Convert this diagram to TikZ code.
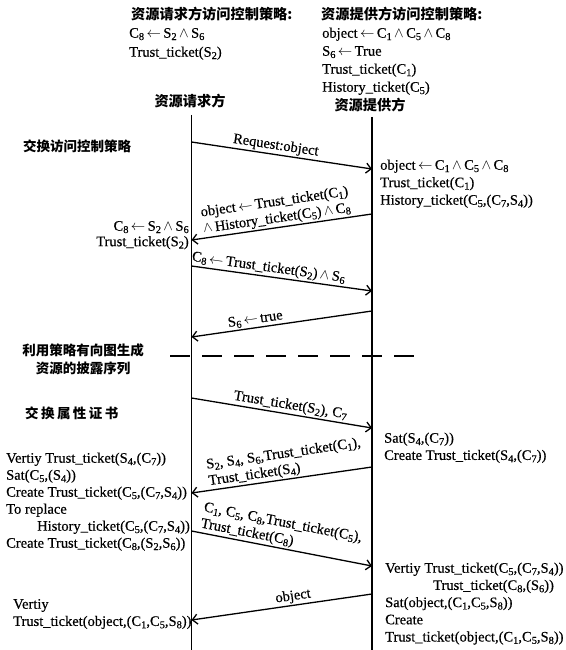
\documentclass[tikz,border=0pt]{standalone}
\usepackage{fontspec}
\setmainfont{Liberation Serif}[FakeBold=0.35]
\newfontfamily\cjk{Noto Sans CJK SC}
\usetikzlibrary{arrows.meta}
\newcommand{\dn}[1]{\raisebox{-0.35ex}{\fontsize{10.5}{10.5}\selectfont #1}}
\newcommand{\larr}{\,$\leftarrow$\,}
\newcommand{\wed}{\,$\wedge$\,}
\newcommand{\fs}{\rule{0pt}{12pt}}
\begin{document}
\begin{tikzpicture}[x=1pt,y=-1pt,
  txt/.style={font=\fontsize{14.5}{17.2}\selectfont, inner sep=0pt, align=left, anchor=north west},
  cjkt/.style={font=\cjk\bfseries\fontsize{13.5}{18}\selectfont, inner sep=0pt, anchor=west},
  cjkh/.style={font=\cjk\bfseries\fontsize{14.2}{18}\selectfont, inner sep=0pt, anchor=west},
  life/.style={line width=1.4pt},
  msg/.style={line width=1.3pt, -{Straight Barb[length=5pt,width=10pt,line width=1.3pt]}},
  lbl/.style={font=\fontsize{14.5}{16.5}\selectfont, inner sep=1.5pt, sloped, above, align=left}]
\fill[white] (0,0) rectangle (565,650);
\useasboundingbox (0,0) rectangle (565,650);

% headings
\node[cjkh] (hl) at (131,14) {资源请求方访问控制策略:};
\node[cjkh] (hr) at (321,14) {资源提供方访问控制策略:};
\node[txt, font=\fontsize{14.5}{19}\selectfont] (tl) at (129,25.5) {\fs C\dn{8}\larr S\dn{2}\wed S\dn{6}\\Trust\_ticket(S\dn{2})};
\node[txt, font=\fontsize{14.5}{18}\selectfont] (tr) at (322,25.5) {\fs object\larr C\dn{1}\wed C\dn{5}\wed C\dn{8}\\S\dn{6}\larr True\\Trust\_ticket(C\dn{1})\\History\_ticket(C\dn{5})};

% lifeline labels
\node[cjkh, anchor=center] (pl) at (190,101) {资源请求方};
\node[cjkh, anchor=center] (pr) at (370,105) {资源提供方};

% lifelines
\coordinate (L0) at (191.5,115);
\coordinate (L1) at (191.5,650);
\coordinate (R0) at (372,117);
\coordinate (R1) at (372,650);
\draw[life] (L0) -- (L1);
\draw[life] (R0) -- (R1);

% phase labels
\node[cjkt] (ph1) at (23,146) {交换访问控制策略};
\node[cjkt, align=center, anchor=center] (ph2) at (83,359) {利用策略有向图生成\\资源的披露序列};
\node[cjkt, font=\cjk\bfseries\addfontfeature{LetterSpace=18}\fontsize{13.5}{18}\selectfont] (ph3) at (25,413) {交换属性证书};

% dashed separator
\coordinate (d0) at (170,356);
\coordinate (d1) at (416,356);
\draw[line width=1.3pt, dash pattern=on 20pt off 12pt] (d0) -- (d1);

% arrow end points
\coordinate (a1s) at (191.5,142); \coordinate (a1e) at (372,169);
\coordinate (a2s) at (372,214);   \coordinate (a2e) at (191.5,240);
\coordinate (a3s) at (191.5,266); \coordinate (a3e) at (372,291);
\coordinate (a4s) at (372,311);   \coordinate (a4e) at (191.5,337);
\coordinate (a6s) at (191.5,398); \coordinate (a6e) at (372,428);
\coordinate (a7s) at (372,467);   \coordinate (a7e) at (191.5,493);
\coordinate (a8s) at (191.5,531); \coordinate (a8e) at (372,566);
\coordinate (a9s) at (372,594);   \coordinate (a9e) at (191.5,620);

\draw[msg] (a1s) -- node[lbl, pos=0.46] (m1) {Request:object} (a1e);
\draw[msg] (a2s) -- node[lbl, pos=0.52] (m2) {object\larr Trust\_ticket(C\dn{1})\\$\wedge$\,History\_ticket(C\dn{5})\wed C\dn{8}} (a2e);
\draw[msg] (a3s) -- node[lbl, pos=0.42] (m3) {C\dn{8}\larr Trust\_ticket(S\dn{2})\wed S\dn{6}} (a3e);
\draw[msg] (a4s) -- node[lbl, pos=0.64] (m4) {S\dn{6}\larr true} (a4e);
\draw[msg] (a6s) -- node[lbl, pos=0.54] (m6) {Trust\_ticket(S\dn{2}), C\dn{7}} (a6e);
\draw[msg] (a7s) -- node[lbl, pos=0.47] (m7) {S\dn{2}, S\dn{4}, S\dn{6},Trust\_ticket(C\dn{1}),\\Trust\_ticket(S\dn{4})} (a7e);
\draw[msg] (a8s) -- node[lbl, pos=0.48] (m8) {C\dn{1}, C\dn{5}, C\dn{8},Trust\_ticket(C\dn{5}),\\Trust\_ticket(C\dn{8})} (a8e);
\draw[msg] (a9s) -- node[lbl, pos=0.43] (m9) {object} (a9e);

% right-side notes
\node[txt, font=\fontsize{14.5}{17.5}\selectfont] (nA) at (380,157.5) {\fs object\larr C\dn{1}\wed C\dn{5}\wed C\dn{8}\\Trust\_ticket(C\dn{1})\\History\_ticket(C\dn{5},(C\dn{7},S\dn{4}))};
\node[txt] (nB) at (384,430.5) {\fs Sat(S\dn{4},(C\dn{7}))\\Create Trust\_ticket(S\dn{4},(C\dn{7}))};
\node[txt] (nC) at (385,560.5) {\fs Vertiy Trust\_ticket(C\dn{5},(C\dn{7},S\dn{4}))\\\hspace*{48pt}Trust\_ticket(C\dn{8},(S\dn{6}))\\Sat(object,(C\dn{1},C\dn{5},S\dn{8}))\\Create\\Trust\_ticket(object,(C\dn{1},C\dn{5},S\dn{8}))};

% left-side notes
\node[txt, anchor=north east, align=right, font=\fontsize{14.5}{15.5}\selectfont] (nD) at (189,218.5) {\fs C\dn{8}\larr S\dn{2}\wed S\dn{6}\\Trust\_ticket(S\dn{2})};
\node[txt, font=\fontsize{14.5}{17}\selectfont] (nE) at (6,450.5) {\fs Vertiy Trust\_ticket(S\dn{4},(C\dn{7}))\\Sat(C\dn{5},(S\dn{4}))\\Create Trust\_ticket(C\dn{5},(C\dn{7},S\dn{4}))\\To replace\\\hspace*{31pt}History\_ticket(C\dn{5},(C\dn{7},S\dn{4}))\\Create Trust\_ticket(C\dn{8},(S\dn{2},S\dn{6}))};
\node[txt] (nF) at (13,596.5) {\fs Vertiy\\Trust\_ticket(object,(C\dn{1},C\dn{5},S\dn{8}))};
\end{tikzpicture}
\end{document}
